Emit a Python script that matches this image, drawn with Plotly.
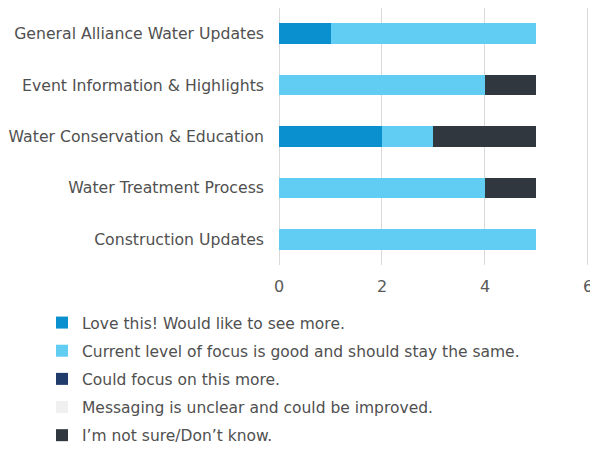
import plotly.graph_objects as go

categories = [
    "General Alliance Water Updates",
    "Event Information & Highlights",
    "Water Conservation & Education",
    "Water Treatment Process",
    "Construction Updates",
]
series_names = [
    "Love this! Would like to see more.",
    "Current level of focus is good and should stay the same.",
    "Could focus on this more.",
    "Messaging is unclear and could be improved.",
    "I\u2019m not sure/Don\u2019t know.",
]
love = [1, 0, 2, 0, 0]
current = [4, 4, 1, 4, 5]
could_focus = [0, 0, 0, 0, 0]
messaging = [0, 0, 0, 0, 0]
not_sure = [0, 1, 2, 1, 0]
x_ticks = [0, 2, 4, 6]

colors = ["#0A8FCF", "#62CDF3", "#1F3C6B", "#F0F0F0", "#31373F"]
values = [love, current, could_focus, messaging, not_sure]

FONT = "DejaVu Sans"
TEXT = "#505050"
fig = go.Figure()
for i, (name, vals, col) in enumerate(zip(series_names, values, colors)):
    fig.add_trace(go.Bar(
        y=categories, x=vals, name=name, orientation="h",
        marker=dict(color=col, line=dict(width=0)),
        width=0.4, legendgroup=f"g{i}",
    ))

fig.update_layout(
    barmode="stack",
    width=590, height=449,
    margin=dict(l=279, r=1, t=8, b=184, autoexpand=False),
    paper_bgcolor="white", plot_bgcolor="white",
    font=dict(family=FONT, color=TEXT, size=15.7),
    showlegend=True,
    legend=dict(
        orientation="v", xref="container", yref="container",
        x=42 / 590, y=1 - 306 / 449, xanchor="left", yanchor="top",
        font=dict(family=FONT, size=15.5, color=TEXT),
        tracegroupgap=5, traceorder="grouped",
        bgcolor="rgba(0,0,0,0)",
    ),
    xaxis=dict(
        range=[0, 6.02], tickvals=x_ticks, showgrid=True, gridcolor="#D9D9D9",
        gridwidth=1, zeroline=True, zerolinecolor="#D9D9D9", zerolinewidth=1,
        showline=False, ticks="", tickfont=dict(size=16, color="#595959"),
        ticklabelstandoff=10, ticklabeloverflow="allow", automargin=False,
    ),
    yaxis=dict(
        categoryorder="array", categoryarray=categories, autorange="reversed",
        showgrid=False, showline=False, ticks="", automargin=False,
        tickfont=dict(size=15.7, color=TEXT), ticklabelstandoff=14,
    ),
)

fig.write_html(
    "out.html",
    config={"displayModeBar": False},
    post_script="document.body.style.margin='0';",
)
